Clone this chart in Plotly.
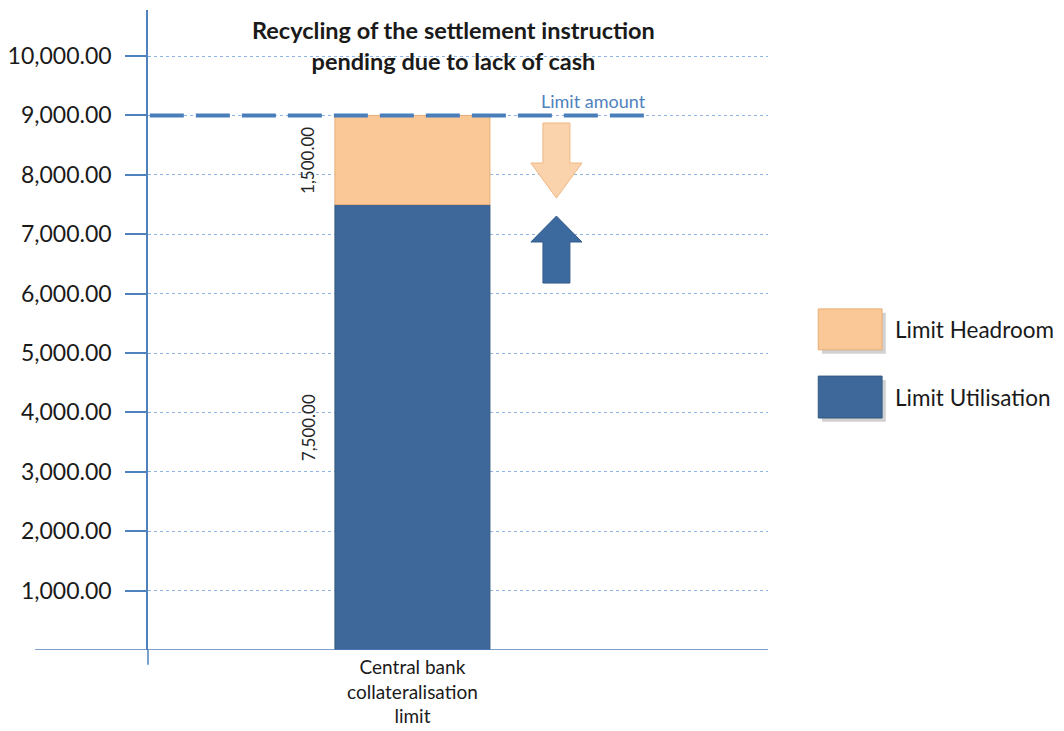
import plotly.graph_objects as go

# ---- data ----
category = ["Central bank<br>collateralisation<br>limit"]
series_names = ["Limit Utilisation", "Limit Headroom"]
utilisation = [7500.0]
headroom = [1500.0]
limit_amount = 9000.0
limit_label = "Limit amount"
y_ticks = [1000, 2000, 3000, 4000, 5000, 6000, 7000, 8000, 9000, 10000]
title_text = "Recycling of the settlement instruction<br>pending due to lack of cash"

# ---- styles ----
C_UTIL = "#3E6899"
C_HEAD = "#FAC796"
C_AXIS = "#4F81BD"
C_GRID = "#8EB4E3"
FONT = "Lato"

X_RANGE = [-1.706, 2.294]
Y_RANGE = [0, 10775]
BAR_W = 1.0
xpos = list(range(len(category)))

fig = go.Figure()

fig.add_trace(go.Bar(
    x=xpos, y=utilisation, width=BAR_W, name=series_names[0],
    marker=dict(color=C_UTIL, line=dict(color="#35597F", width=1)),
    showlegend=False, hoverinfo="skip",
))
fig.add_trace(go.Bar(
    x=xpos, y=headroom, base=utilisation, width=BAR_W, name=series_names[1],
    marker=dict(color=C_HEAD, line=dict(color="#E9AE78", width=1)),
    showlegend=False, hoverinfo="skip",
))

# limit line
fig.add_trace(go.Scatter(
    x=[X_RANGE[0] + 0.012, 1.533], y=[limit_amount, limit_amount],
    mode="lines", line=dict(color="#4A7EBB", width=4, dash="34px,12px"),
    showlegend=False, hoverinfo="skip",
))

annotations = []
# data labels (rotated, left of the bar)
for i, (u, h) in enumerate(zip(utilisation, headroom)):
    annotations.append(dict(x=xpos[i] - BAR_W / 2, y=u / 2, xref="x", yref="y",
                            text=f"{u:,.2f}", textangle=-90, showarrow=False,
                            xshift=-27, font=dict(family=FONT, size=17, color="#262626")))
    annotations.append(dict(x=xpos[i] - BAR_W / 2, y=u + h / 2, xref="x", yref="y",
                            text=f"{h:,.2f}", textangle=-90, showarrow=False,
                            xshift=-27, font=dict(family=FONT, size=17, color="#262626")))

annotations.append(dict(x=1.165, y=limit_amount, xref="x", yref="y", text=limit_label,
                        showarrow=False, yshift=14,
                        font=dict(family=FONT, size=18, color="#4F81BD")))

annotations.append(dict(x=0.492, y=0.944, xref="paper", yref="paper", text=title_text,
                        showarrow=False, xanchor="center", yanchor="middle",
                        font=dict(family=FONT, size=23.5, color="#1a1a1a", weight="bold")))

# custom legend
legend_items = [(series_names[1], C_HEAD, "#E9AE78", 0.533, 0.469),
                (series_names[0], C_UTIL, "#35597F", 0.428, 0.3625)]
shapes = []
for name, fill, edge, y1, y0 in legend_items:
    shapes.append(dict(type="rect", xref="paper", yref="paper",
                       x0=1.087, x1=1.190, y0=y0 - 0.006, y1=y1 - 0.006,
                       fillcolor="rgba(0,0,0,0.18)", line=dict(width=0), layer="above"))
    shapes.append(dict(type="rect", xref="paper", yref="paper",
                       x0=1.081, x1=1.184, y0=y0, y1=y1,
                       fillcolor=fill, line=dict(color=edge, width=1), layer="above"))
    annotations.append(dict(x=1.202, y=(y0 + y1) / 2, xref="paper", yref="paper",
                            text=name, showarrow=False, xanchor="left", yanchor="middle",
                            font=dict(family=FONT, size=22.5, color="#1a1a1a")))

# x-axis line extending to the left of the value axis
shapes.append(dict(type="line", xref="paper", yref="y", x0=-0.182, x1=1.0, y0=0, y1=0,
                   line=dict(color=C_AXIS, width=1.5), layer="above"))
# value axis extension below category axis
shapes.append(dict(type="line", xref="paper", yref="paper", x0=0, x1=0, y0=0, y1=-0.023,
                   line=dict(color=C_AXIS, width=1.5), layer="above"))

# decorative block arrows
cx, sw, hw = 0.929, 0.087, 0.165
down = (f"M {cx-sw},8872 L {cx+sw},8872 L {cx+sw},8199 L {cx+hw},8199 "
        f"L {cx},7609 L {cx-hw},8199 L {cx-sw},8199 Z")
up = (f"M {cx-sw},6178 L {cx+sw},6178 L {cx+sw},6869 L {cx+hw},6869 "
      f"L {cx},7306 L {cx-hw},6869 L {cx-sw},6869 Z")
shapes.append(dict(type="path", xref="x", yref="y", path=down,
                   fillcolor="#FAD2AB", line=dict(color="#F0B782", width=1), layer="above"))
shapes.append(dict(type="path", xref="x", yref="y", path=up,
                   fillcolor="#3D6A9E", line=dict(color="#345C8A", width=1), layer="above"))

fig.update_layout(
    width=1056, height=723,
    margin=dict(l=140, r=296, t=2, b=81, autoexpand=False),
    paper_bgcolor="white", plot_bgcolor="white",
    barmode="overlay",
    showlegend=False,
    annotations=annotations,
    shapes=shapes,
    xaxis=dict(range=X_RANGE, tickvals=xpos, ticktext=category, showgrid=False,
               zeroline=False, showline=False, ticks="", automargin=False,
               tickfont=dict(family=FONT, size=19, color="#1a1a1a"),
               ticklabelstandoff=4),
    yaxis=dict(range=Y_RANGE, tickvals=y_ticks, tickformat=",.2f", automargin=False,
               showgrid=True, gridcolor=C_GRID, griddash="dot", gridwidth=1,
               zeroline=False, showline=True, linecolor=C_AXIS, linewidth=1.5,
               ticks="outside", ticklen=21, tickcolor=C_AXIS, tickwidth=1.5,
               tickfont=dict(family=FONT, size=23, color="#1a1a1a"),
               ticklabelstandoff=9),
)

fig.write_html("out.html")
